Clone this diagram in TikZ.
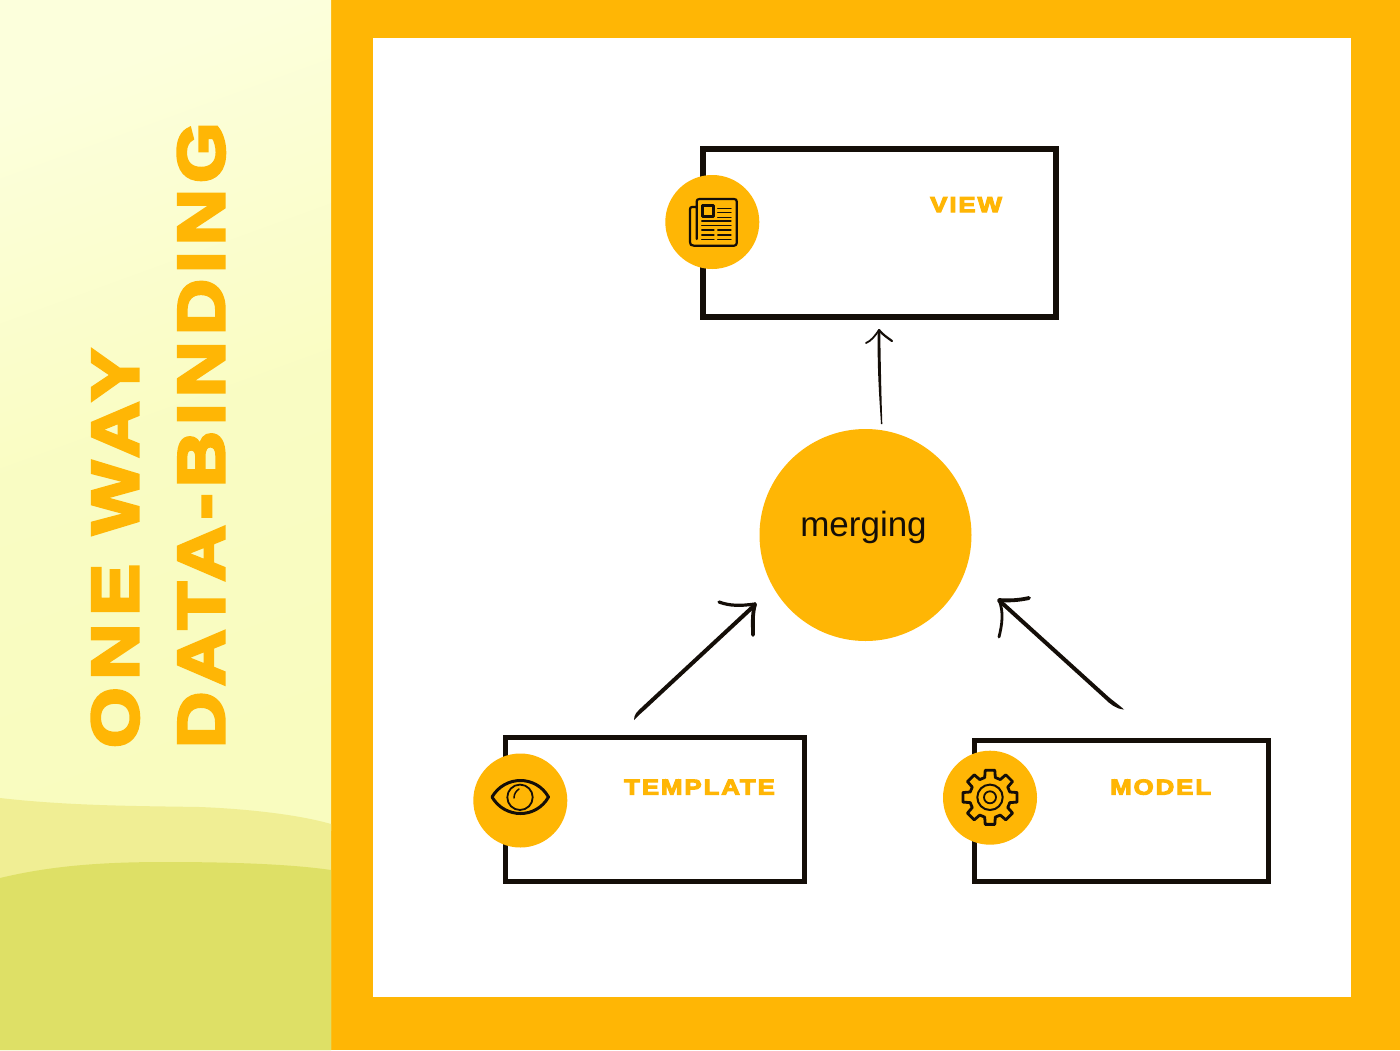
\documentclass[tikz,border=0pt]{standalone}
\usepackage{fontspec}
\setmainfont{Liberation Sans}
\newfontfamily\heavy[UprightFont=* Bold,FakeBold=5,FakeStretch=1.2,LetterSpace=9]{Liberation Sans}
\newfontfamily\heavytitle[UprightFont=* Bold,FakeBold=5,FakeStretch=1.175,LetterSpace=9.4]{Liberation Sans}
\newfontfamily\heavyone[UprightFont=* Bold,FakeBold=5,FakeStretch=1.175,LetterSpace=12]{Liberation Sans}
\definecolor{amber}{HTML}{FFB605}
\definecolor{ink}{HTML}{140E08}
\definecolor{paleA}{HTML}{FCFFDC}
\definecolor{paleB}{HTML}{F9FCBF}
\definecolor{hillA}{HTML}{F0EE94}
\definecolor{hillB}{HTML}{DEE066}
\tikzset{
  panelbox/.style={draw=ink,line width=#1,fill=white,inner sep=0pt,line join=miter},
  badge/.style={circle,fill=amber,draw=none,minimum size=94pt,inner sep=0pt},
  boxlabel/.style={text=amber,inner sep=0pt,anchor=base west,font=\heavy\fontsize{21.5}{21.5}\selectfont},
  titletext/.style={text=amber,inner sep=0pt,rotate=90,anchor=base west},
  inkstem/.style={draw=ink,line cap=round,line join=round,line width=#1},
  inkfill/.style={fill=ink,draw=none},
  iconline/.style={draw=ink,line width=#1,line cap=round,line join=round},
}
\begin{document}
\begin{tikzpicture}[x=1pt,y=-1pt]
\useasboundingbox (0,0) rectangle (1400,1050);
% backgrounds
\fill[amber] (0,0) rectangle (1400,1050);
\shade[top color=paleA,bottom color=paleB,middle color=paleB!85!paleA,shading angle=20] (0,0) rectangle (331,830);
\fill[hillA] (0,798) .. controls (70,806) and (140,806) .. (200,807) .. controls (250,809) and (300,815) .. (331,824) -- (331,1050) -- (0,1050) -- cycle;
\fill[hillB] (0,878) .. controls (50,866) and (100,862) .. (165,862) .. controls (230,862) and (290,864) .. (331,870) -- (331,1050) -- (0,1050) -- cycle;
\fill[white] (373,38) rectangle (1351,997);
% title
\node[titletext,font=\heavyone\fontsize{66}{66}\selectfont] (titleone) at (138,748) {ONE WAY};
\node[titletext,font=\heavytitle\fontsize{66}{66}\selectfont] (titletwo) at (224,748) {DATA-BINDING};
% boxes
\node[panelbox=6pt,minimum width=353pt,minimum height=168.5pt] (view) at (879.5,232.75) {};
\node[panelbox=5pt,minimum width=299.7pt,minimum height=144pt] (template) at (654.85,809) {};
\node[panelbox=5pt,minimum width=294.2pt,minimum height=141pt] (model) at (1121.4,810.5) {};
% circles
\node[badge] (viewicon) at (712.3,222) {};
\node[badge] (templateicon) at (520.3,800.5) {};
\node[badge] (modelicon) at (990,797.7) {};
\node[circle,fill=amber,minimum size=212pt,inner sep=0pt] (merge) at (865.5,535) {};
% labels
\node[inner sep=0pt,anchor=base,font=\fontsize{35}{35}\selectfont,text=ink] (mergelabel) at (863.5,536) {merging};
\node[boxlabel] (viewlabel) at (930,212) {VIEW};
\node[boxlabel] (templatelabel) at (624,794.5) {TEMPLATE};
\node[boxlabel] (modellabel) at (1110,794.5) {MODEL};
% arrow coordinates
\coordinate (upfoot) at (881,424);
\coordinate (uptip) at (879,330);
\coordinate (upbarbl) at (866,343);
\coordinate (upbarbr) at (892,341);
\coordinate (leftfoot) at (634,720);
\coordinate (lefttip) at (755,604);
\coordinate (leftbarba) at (719,602);
\coordinate (leftbarbb) at (753,635);
\coordinate (rightfoot) at (1124,709.5);
\coordinate (righttip) at (999,600);
\coordinate (rightbarba) at (1029,598);
\coordinate (rightbarbb) at (999,637);
% up arrow
\fill[inkfill] (upfoot) .. controls (879.5,400) and (877,370) .. (877.8,330) -- (880.2,330) .. controls (880.8,370) and (881.5,400) .. (882.3,424) -- cycle;
\draw[inkstem=1.8pt] (uptip) .. controls (875,336) and (871,341) .. (upbarbl);
\draw[inkstem=2.2pt] (uptip) .. controls (883,335) and (888,338) .. (upbarbr);
% left arrow
\fill[inkfill] (leftfoot) .. controls (634,714) and (637,712) .. (642,707) -- (754,603) -- (756.8,605.9) -- (644.8,709.9) .. controls (640,714) and (637,717) .. cycle;
\draw[inkstem=3.2pt] (lefttip) .. controls (740,606) and (730,606) .. (leftbarba);
\draw[inkstem=3.8pt] (lefttip) .. controls (752,615) and (753,625) .. (leftbarbb);
% right arrow
\fill[inkfill] (rightfoot) .. controls (1118,704) and (1113,701) .. (1107,695.5) -- (1000,598.5) -- (997.4,601.5) -- (1104.4,698.5) .. controls (1110,704) and (1116,709) .. cycle;
\draw[inkstem=3.8pt] (righttip) .. controls (1010,601) and (1020,600) .. (rightbarba);
\draw[inkstem=2.8pt] (righttip) .. controls (1004,612) and (1002,625) .. (rightbarbb);
% newspaper icon
\draw[iconline=2.2pt] (696.7,207) -- (692,207) .. controls (690.5,207) and (690,208) .. (690,209.5) -- (690,242) .. controls (690,244.5) and (691,245.7) .. (694,245.7) -- (734,245.7) .. controls (736,245.7) and (736.7,244.5) .. (736.7,243) -- (736.7,201.5) .. controls (736.7,200) and (736,199) .. (734,199) -- (699.5,199) .. controls (697.5,199) and (696.7,200) .. (696.7,201.5) -- (696.7,239);
\draw[iconline=2.8pt] (702.2,205.5) rectangle (713.5,216.8);
\foreach \yy in {208.3,212.7,217.3} \draw[iconline=1.2pt] (717.7,\yy) -- (731,\yy);
\foreach \yy in {221,225.7} \draw[iconline=1.2pt] (701.7,\yy) -- (731,\yy);
\foreach \yy in {230,235,239.3} {\draw[iconline=1.2pt] (701.7,\yy) -- (714,\yy); \draw[iconline=1.2pt] (717.7,\yy) -- (731,\yy);}
% eye icon
\draw[iconline=3pt] (492,797) .. controls (505,775) and (536,775) .. (548.5,797) .. controls (536,819) and (505,819) .. (492,797) -- cycle;
\draw[iconline=1.8pt] (520,797.3) circle (12.7);
\draw[iconline=1.5pt] (514,798) .. controls (514,794) and (516,791) .. (519,789);
% gear icon
\begin{scope}[shift={(990,797.3)}]
\draw[iconline=2.8pt]
  \foreach \a in {0,45,...,315}{
    (\a-10:27.5) -- (\a+10:27.5) -- (\a+15:20.5) -- (\a+30:20.5) -- (\a+35:27.5)
  };
\draw[iconline=2pt] (0,0) circle (12.7);
\draw[iconline=1.8pt] (0,0) circle (6);
\end{scope}
\end{tikzpicture}
\end{document}
